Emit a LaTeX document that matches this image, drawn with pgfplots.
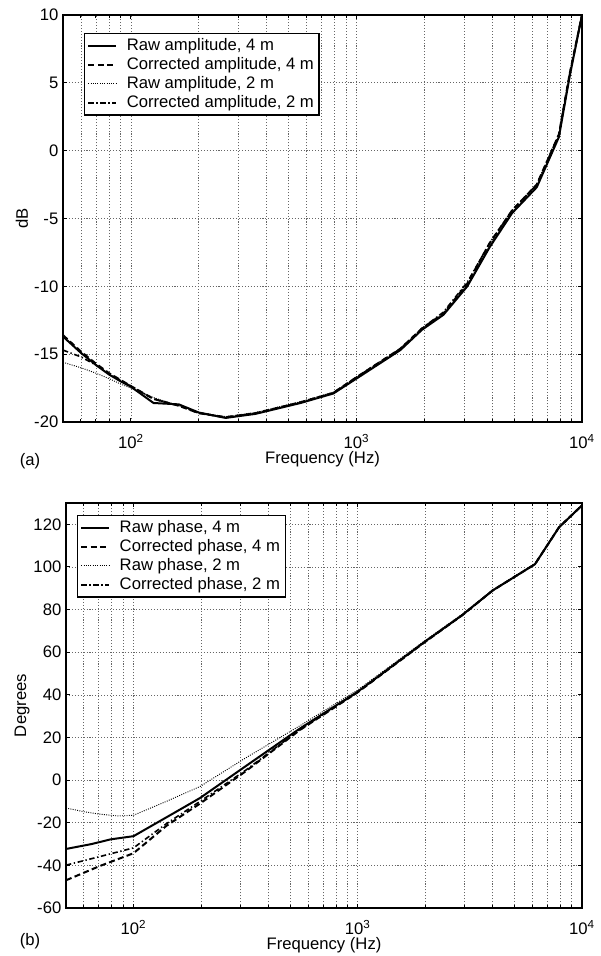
\documentclass[border=0pt]{standalone}
\usepackage{fontspec}
\setmainfont{Liberation Sans}
\usepackage{pgfplots}
\pgfplotsset{compat=1.18}

\tikzset{
  rawA/.style={black, line width=1.5pt, solid},
  corA/.style={black, line width=1.5pt, dash pattern=on 4.5pt off 2.5pt},
  rawB/.style={black, line width=0.7pt, dash pattern=on 0.7pt off 1.0pt},
  corB/.style={black, line width=1.2pt, dash pattern=on 4pt off 2pt on 1pt off 2pt},
}
\newcommand\myfont{\fontsize{12.5}{14.5}\selectfont}

\begin{document}
\begin{tikzpicture}
\useasboundingbox (-47.25pt,-400.5pt) rectangle (402.75pt,316.5pt);

% ---------------- (a) amplitude ----------------
\begin{axis}[
  scale only axis,
  at={(0pt,0pt)}, anchor=south west,
  width=389.25pt, height=305.25pt,
  xmode=log,
  xmin=50, xmax=10000,
  xtick={100,1000,10000},
  xticklabels={10\textsuperscript{2},10\textsuperscript{3},10\textsuperscript{4}},
  minor xtick={50,60,70,80,90,200,300,400,500,600,700,800,900,2000,3000,4000,5000,6000,7000,8000,9000},
  xmajorgrids, xminorgrids, ymajorgrids,
  major grid style={black!60, line width=0.5pt, dash pattern=on 0.8pt off 1.4pt},
  minor grid style={black!60, line width=0.5pt, dash pattern=on 0.8pt off 1.4pt},
  tick align=inside,
  major tick length=3pt, minor tick length=2.5pt,
  tick style={black, line width=0.7pt},
  axis line style={black, line width=1.1pt},
  tick label style={font=\myfont},
  xticklabel style={anchor=center, yshift=-14.5pt},
  label style={font=\myfont},
  /pgf/number format/assume math mode=true,
  ymin=-20, ymax=10, ytick={-20,-15,-10,-5,0,5,10},
  xlabel={Frequency (Hz)}, ylabel={dB},
  xlabel style={at={(axis description cs:0.5,0)}, anchor=center, yshift=-28pt},
  ylabel style={at={(axis description cs:-0.079,0.5)}, anchor=center},
  legend cell align=left,
  legend style={font=\myfont, draw=black, line width=1.1pt,
      fill=white, anchor=north west, at={(rel axis cs:0.0405,0.9558)},
      inner sep=2pt, column sep=5pt, row sep=0pt,
      nodes={inner xsep=2pt, inner ysep=1pt, text height=9.5pt, text depth=2.75pt}},
  legend image code/.code={\draw[#1] (0pt,0pt) -- (21pt,0pt);},
]
\addplot[rawA] coordinates {
 (50,-13.7) (60,-14.9) (70,-15.8) (80,-16.5) (90,-17.0) (100,-17.4)
 (126,-18.6) (163,-18.7) (200,-19.3) (263,-19.7) (357,-19.4) (565,-18.6)
 (790,-17.9) (1000,-16.8) (1565,-14.7) (1953,-13.2) (2430,-12.1)
 (3100,-10.0) (3900,-7.1) (4900,-4.6) (6300,-2.7) (7900,1.0) (8800,5.4) (10000,10)
};
\addlegendentry{Raw amplitude, 4 m}
\addplot[corA] coordinates {
 (50,-13.6) (60,-14.8) (70,-15.7) (80,-16.4) (90,-16.9) (100,-17.35)
 (126,-18.3) (163,-18.8) (200,-19.35) (263,-19.65) (357,-19.35) (565,-18.55)
 (790,-17.85) (1000,-16.7) (1565,-14.6) (1953,-13.1) (2430,-12.0)
 (3100,-9.8) (3900,-6.8) (4900,-4.4) (6300,-2.5) (7900,1.2) (8800,5.6) (10000,10)
};
\addlegendentry{Corrected amplitude, 4 m}
\addplot[rawB] coordinates {
 (50,-15.6) (60,-16.0) (70,-16.4) (80,-16.8) (90,-17.2) (100,-17.5)
 (126,-18.2) (163,-18.8) (200,-19.3) (263,-19.6) (357,-19.3) (565,-18.5)
 (790,-17.8) (1000,-16.7) (1565,-14.6) (1953,-13.1) (2430,-12.0)
 (3100,-9.9) (3900,-7.0) (4900,-4.5) (6300,-2.6) (7900,1.1) (8800,5.5) (10000,10)
};
\addlegendentry{Raw amplitude, 2 m}
\addplot[corB] coordinates {
 (50,-14.7) (60,-15.2) (70,-15.8) (80,-16.45) (90,-16.95) (100,-17.35)
 (126,-18.3) (163,-18.8) (200,-19.35) (263,-19.65) (357,-19.35) (565,-18.55)
 (790,-17.85) (1000,-16.7) (1565,-14.6) (1953,-13.1) (2430,-11.9)
 (3100,-9.7) (3900,-6.8) (4900,-4.4) (6300,-2.5) (7900,1.2) (8800,5.6) (10000,10)
};
\addlegendentry{Corrected amplitude, 2 m}
\end{axis}

% ---------------- (b) phase ----------------
\begin{axis}[
  scale only axis,
  at={(2.25pt,-364.5pt)}, anchor=south west,
  width=387pt, height=303.75pt,
  xmode=log,
  xmin=50, xmax=10000,
  xtick={100,1000,10000},
  xticklabels={10\textsuperscript{2},10\textsuperscript{3},10\textsuperscript{4}},
  minor xtick={50,60,70,80,90,200,300,400,500,600,700,800,900,2000,3000,4000,5000,6000,7000,8000,9000},
  xmajorgrids, xminorgrids, ymajorgrids,
  major grid style={black!60, line width=0.5pt, dash pattern=on 0.8pt off 1.4pt},
  minor grid style={black!60, line width=0.5pt, dash pattern=on 0.8pt off 1.4pt},
  tick align=inside,
  major tick length=3pt, minor tick length=2.5pt,
  tick style={black, line width=0.7pt},
  axis line style={black, line width=1.1pt},
  tick label style={font=\myfont},
  xticklabel style={anchor=center, yshift=-14.5pt},
  label style={font=\myfont},
  /pgf/number format/assume math mode=true,
  ymin=-60, ymax=130, ytick={-60,-40,...,120},
  xlabel={Frequency (Hz)}, ylabel={Degrees},
  xlabel style={at={(axis description cs:0.5,0)}, anchor=center, yshift=-28pt},
  ylabel style={at={(axis description cs:-0.085,0.5)}, anchor=center},
  legend cell align=left,
  legend style={font=\myfont, draw=black, line width=1.1pt,
      fill=white, anchor=north west, at={(rel axis cs:0.0213,0.9704)},
      inner sep=2pt, column sep=5pt, row sep=0pt,
      nodes={inner xsep=2pt, inner ysep=1pt, text height=9.5pt, text depth=2.75pt}},
  legend image code/.code={\draw[#1] (0pt,0pt) -- (21pt,0pt);},
]
\addplot[rawA] coordinates {
 (50,-32.3) (65,-30.0) (79,-27.8) (100,-26.3) (140,-17.5) (198,-8.4)
 (315,6.4) (552,24.2) (1000,41.5) (1983,64.8) (2920,77.4) (4000,89)
 (6170,101.3) (7900,118.6) (10000,128.9)
};
\addlegendentry{Raw phase, 4 m}
\addplot[corA] coordinates {
 (50,-47.0) (70,-40.5) (100,-34.3) (140,-21.5) (198,-11.0)
 (315,4.0) (552,23.5) (1000,41.2) (1983,64.6) (2920,77.3) (4000,89)
 (6170,101.3) (7900,118.6) (10000,128.9)
};
\addlegendentry{Corrected phase, 4 m}
\addplot[rawB] coordinates {
 (50,-13.1) (60,-14.8) (70,-15.9) (85,-16.8) (100,-16.5) (140,-10.0) (198,-3.0)
 (315,10.3) (552,25.5) (1000,42.3) (1983,65.3) (2920,77.8) (4000,89.3)
 (6170,101.5) (7900,118.8) (10000,129.2)
};
\addlegendentry{Raw phase, 2 m}
\addplot[corB] coordinates {
 (50,-39.9) (70,-36.0) (100,-31.8) (140,-20.5) (198,-10.0)
 (315,4.5) (552,23.7) (1000,41.3) (1983,64.7) (2920,77.3) (4000,89)
 (6170,101.3) (7900,118.6) (10000,128.9)
};
\addlegendentry{Corrected phase, 2 m}
\end{axis}

\node[font=\myfont] at (-24.75pt,-29.25pt) {(a)};
\node[font=\myfont] at (-24.75pt,-389.25pt) {(b)};
\end{tikzpicture}
\end{document}
